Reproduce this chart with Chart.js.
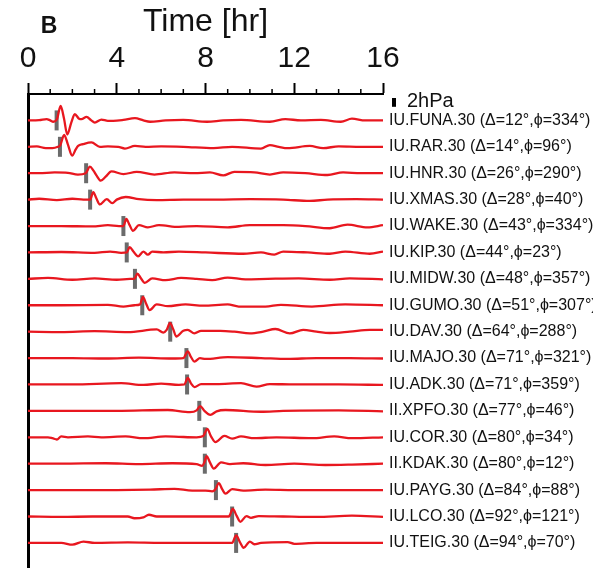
<!DOCTYPE html>
<html>
<head>
<meta charset="utf-8">
<script src="https://cdn.jsdelivr.net/npm/chart.js@4.4.1/dist/chart.umd.min.js"></script>
<style>
  html, body { margin: 0; padding: 0; background: #fff; }
  #wrap { width: 593px; height: 568px; }
</style>
</head>
<body>
<div id="wrap"><canvas id="traces" width="593" height="568"></canvas></div>
<script>
// stations, top to bottom (sorted by distance)
const stations = ['IU.FUNA.30', 'IU.RAR.30', 'IU.HNR.30', 'IU.XMAS.30', 'IU.WAKE.30', 'IU.KIP.30',
  'IU.MIDW.30', 'IU.GUMO.30', 'IU.DAV.30', 'IU.MAJO.30', 'IU.ADK.30', 'II.XPFO.30', 'IU.COR.30',
  'II.KDAK.30', 'IU.PAYG.30', 'IU.LCO.30', 'IU.TEIG.30'];
const distances = [12, 14, 26, 28, 43, 44, 48, 51, 64, 71, 71, 77, 80, 80, 84, 92, 94];
const azimuths = [334, 96, 290, 40, 334, 23, 357, 307, 288, 321, 359, 46, 34, 12, 88, 121, 70];
// picked arrival time of the pressure pulse (hr)
const arrivals = [1.29, 1.44, 2.62, 2.8, 4.3, 4.45, 4.82, 5.15, 6.41, 7.14, 7.17, 7.72, 7.97, 7.97, 8.47, 9.2, 9.38];
const timeTicks = [0, 4, 8, 12, 16];

// pressure records, [time hr, hPa]
const funa = [[0, 0], [0.5, 0.05], [0.84, 0.3], [1.0, 0.0], [1.14, -0.3], [1.3, 0.2], [1.47, 3.3], [1.62, 0.5],
  [1.77, -3.2], [1.95, -0.5], [2.11, 1.4], [2.3, 0.4], [2.41, 0.3], [2.64, 0.8], [2.85, 0.0], [3.01, -0.5],
  [3.31, 0.2], [3.6, -0.1], [3.84, -0.1], [4.3, 0.1], [4.82, 0.5], [5.2, 0.0], [5.5, -0.3], [6.2, 0.0],
  [7.0, 0.1], [8.07, -0.3], [8.8, 0.0], [9.6, 0.1], [10.9, -0.3], [11.6, 0.3], [12.3, 0.0], [13.2, 0.1],
  [14.1, -0.3], [14.6, 0.4], [15.2, 0.0], [16, 0.0]];
const rar = [[0, 0], [0.4, 0.1], [0.8, -0.3], [1.1, -0.3], [1.35, 0.0], [1.45, 0.3], [1.63, 2.7], [1.8, 0.5],
  [1.99, -2.0], [2.15, -0.6], [2.26, 0.2], [2.48, 0.6], [2.86, 1.0], [3.24, 0.0], [3.6, 0.1], [4.07, 0.0],
  [4.37, -0.4], [4.82, 0.2], [5.3, 0.0], [6.0, 0.1], [7.0, 0.0], [8.37, -0.3], [9.2, 0.0], [10.5, -0.4],
  [10.9, 0.4], [11.3, 0.0], [11.7, -0.3], [12.7, 0.2], [13.3, -0.3], [14.0, 0.1], [15.0, 0.0], [16, 0.0]];
const hnr = [[0, 0], [0.5, 0.0], [1.2, 0.2], [1.8, 0.1], [2.25, -0.3], [2.6, 0.0], [2.79, 1.5], [2.95, 0.6],
  [3.1, -0.6], [3.28, -1.7], [3.5, -0.8], [3.76, 0.4], [4.3, -0.2], [4.9, 0.3], [5.7, -0.3], [6.6, 0.2],
  [7.5, 0.0], [8.2, 0.2], [8.8, -0.5], [9.3, 0.3], [10.2, 0.2], [10.9, -0.3], [11.5, 0.2], [12.5, 0.0],
  [13.5, -0.4], [14.2, 0.2], [15.0, 0.0], [16, 0.0]];
const xmas = [[0, 0], [0.5, 0.2], [1.3, -0.1], [2.0, 0.2], [2.5, 0.0], [2.8, 0.0], [2.94, 1.7], [3.08, 0.3],
  [3.24, -1.1], [3.55, 0.1], [3.8, -0.8], [4.0, 0.0], [4.4, 0.6], [5.0, 0.1], [5.8, -0.1], [7.0, 0.0],
  [8.5, 0.0], [10.0, 0.1], [11.5, 0.0], [12.7, -0.3], [13.5, 0.0], [14.8, 0.1], [16, 0.0]];
const wake = [[0, 0], [1.5, 0.0], [2.9, -0.1], [3.6, 0.2], [4.1, 0.0], [4.3, 0.0], [4.43, 1.6], [4.58, 0.2],
  [4.73, -1.1], [5.0, 0.2], [5.4, -0.3], [5.9, 0.2], [6.8, -0.2], [7.6, 0.0], [9.0, -0.3], [10.0, 0.2],
  [11.5, 0.2], [12.5, 0.0], [13.6, -0.5], [14.4, 0.3], [15.3, -0.3], [16, 0.2]];
const kip = [[0, 0], [1.5, 0.1], [3.0, -0.1], [3.7, 0.2], [4.2, -0.1], [4.45, 0.0], [4.58, 1.2], [4.75, 0.2],
  [4.96, -0.9], [5.2, 0.2], [5.4, -0.5], [5.6, 0.2], [6.1, 0.0], [6.8, 0.2], [8.0, 0.0], [9.7, -0.3],
  [10.5, 0.0], [11.1, -0.5], [11.5, 0.2], [12.6, 0.0], [13.6, -0.3], [14.3, 0.2], [15.4, -0.3], [16, 0.2]];
const midw = [[0, 0], [0.9, 0.2], [2.0, -0.2], [3.0, 0.1], [4.0, -0.2], [4.6, 0.0], [4.8, 0.0], [4.93, 1.2],
  [5.08, 0.2], [5.26, -0.9], [5.6, 0.1], [6.2, -0.3], [6.9, 0.2], [7.6, 0.0], [8.3, -0.3], [9.0, 0.3],
  [9.8, -0.1], [10.8, 0.0], [12.2, 0.1], [13.6, -0.2], [14.5, 0.1], [16, -0.1]];
const gumo = [[0, 0], [1.5, 0.0], [3.6, 0.1], [4.3, -0.3], [4.8, 0.0], [5.05, 0.2], [5.18, 1.9], [5.32, 0.4],
  [5.48, -1.1], [5.8, 0.2], [6.3, -0.2], [7.1, 0.2], [7.9, -0.1], [9.0, 0.2], [9.5, -0.3], [10.7, -0.3],
  [11.4, 0.1], [12.8, -0.3], [14.3, 0.2], [16, 0.0]];
const dav = [[0, 0], [1.5, -0.1], [3.0, 0.1], [4.5, -0.1], [5.8, 0.5], [6.1, -0.2], [6.25, 0.4], [6.4, 2.0],
  [6.55, 0.5], [6.68, -1.1], [7.0, 0.2], [7.2, 0.4], [7.5, -0.4], [7.8, 0.2], [8.67, 0.2], [9.3, 0.0],
  [10.0, -0.4], [10.6, 0.0], [11.15, 0.6], [11.8, -0.4], [12.4, 0.4], [13.0, 0.0], [13.6, -0.3], [14.5, 0.0],
  [15.4, 0.4], [16, 0.4]];
const majo = [[0, 0], [2.0, 0.0], [3.5, -0.1], [5.0, 0.1], [6.5, -0.1], [7.0, 0.0], [7.2, 1.5], [7.35, 0.2],
  [7.5, -0.8], [7.75, 0.0], [8.0, -0.2], [9.0, 0.2], [10.5, 0.0], [11.7, -0.2], [13.0, 0.0], [14.5, 0.0],
  [16, -0.1]];
const adk = [[0, 0], [2.0, 0.0], [4.2, 0.3], [5.2, -0.1], [6.0, 0.2], [6.8, -0.1], [7.05, 0.0], [7.2, 1.5],
  [7.35, 0.2], [7.5, -0.6], [7.8, 0.1], [8.5, 0.1], [9.6, 0.3], [10.3, -0.5], [10.9, 0.1], [12.0, 0.0],
  [14.0, 0.0], [16, -0.1]];
const xpfo = [[0, 0], [2.0, 0.0], [4.0, 0.0], [6.3, 0.2], [7.3, -0.3], [7.6, 0.1], [7.76, 1.1], [7.95, 0.0],
  [8.22, -0.9], [8.5, -0.1], [8.9, 0.2], [10.5, -0.2], [11.5, 0.0], [14.0, 0.1], [16, -0.1]];
const cor = [[0, 0], [0.9, 0.0], [1.1, -0.2], [1.3, -0.5], [1.5, 0.2], [1.8, 0.0], [2.7, 0.2], [3.3, 0.0],
  [4.4, 0.2], [5.2, -0.2], [6.2, 0.2], [6.8, 0.1], [7.6, 0.0], [7.9, 0.3], [8.08, 1.9], [8.25, 0.2],
  [8.45, -1.1], [8.85, 0.3], [9.2, -0.3], [9.6, 0.2], [10.2, -0.2], [11.2, 0.0], [12.8, -0.2], [13.8, 0.2],
  [14.6, -0.2], [16, 0.0]];
const kdak = [[0, 0], [1.5, 0.0], [3.5, 0.1], [5.0, -0.1], [6.5, 0.1], [7.6, -0.1], [7.85, -0.5], [7.95, 0.3],
  [8.05, 1.7], [8.2, 0.3], [8.37, -1.1], [8.7, 0.3], [9.1, -0.1], [9.7, 0.1], [10.7, -0.3], [12.0, 0.0],
  [13.4, -0.3], [14.6, -0.2], [16, 0.0]];
const payg = [[0, 0], [2.0, 0.0], [4.0, 0.0], [5.5, 0.1], [6.6, 0.3], [7.4, -0.1], [8.0, -0.1], [8.3, -0.3],
  [8.45, 0.2], [8.6, 1.6], [8.75, 0.2], [8.9, -0.8], [9.2, 0.2], [9.7, -0.1], [10.7, 0.1], [12.0, 0.0],
  [14.0, 0.0], [16, 0.0]];
const lco = [[0, 0], [1.5, -0.1], [2.9, 0.0], [4.5, 0.0], [4.8, -0.4], [5.2, -0.2], [5.45, 0.4], [5.8, 0.0],
  [7.0, 0.0], [8.5, 0.0], [9.05, 0.0], [9.23, 1.7], [9.4, 0.2], [9.57, -1.2], [9.85, 0.1], [10.05, -0.3],
  [10.4, 0.1], [11.5, 0.0], [13.0, -0.1], [14.6, 0.2], [16, -0.1]];
const teig = [[0, 0], [1.5, 0.0], [2.0, -0.4], [2.5, 0.3], [3.0, 0.0], [4.5, 0.1], [6.0, 0.0], [8.0, 0.0],
  [9.2, 0.0], [9.38, 1.7], [9.55, 0.2], [9.72, -1.1], [10.0, 0.3], [10.2, -0.3], [10.5, 0.0], [11.7, 0.2],
  [12.0, -0.2], [13.0, 0.0], [16, 0.0]];

const traces = [funa, rar, hnr, xmas, wake, kip, midw, gumo, dav, majo, adk, xpfo, cor, kdak, payg, lco, teig];

const FONT = "'Liberation Sans', Arial, Helvetica, sans-serif";
const RED = '#e8171f';
const GRAY = '#6b6b6b';
const SPACING = 6;      // hPa between neighbouring traces
const Y_MIN = -107.7;   // leaves room below the last trace

const baseline = i => -(i + 1) * SPACING;

const stationLabel = value => {
  const i = Math.round(-value / SPACING) - 1;
  if (i < 0 || i >= stations.length) return '';
  return `${stations[i]} (Δ=${distances[i]}°,ϕ=${azimuths[i]}°)`;
};

const datasets = traces.map((trace, i) => ({
  type: 'line',
  data: trace.map(([t, p]) => ({ x: t, y: p + baseline(i) })),
  borderColor: RED,
  borderWidth: 2.3,
  pointRadius: 0,
  cubicInterpolationMode: 'monotone',
  order: 0,
}));

// gray picks at the arrival times
datasets.push({
  type: 'scatter',
  data: arrivals.map((t, i) => ({ x: t, y: baseline(i) })),
  pointStyle: 'line',
  rotation: 90,
  pointRadius: 10,
  borderWidth: 4,
  borderColor: GRAY,
  order: 1,
});

// minor hour ticks, the 2 hPa bar and the panel letter
const extras = {
  id: 'extras',
  afterDraw(chart) {
    const { ctx, chartArea, scales: { x, y } } = chart;
    ctx.save();
    ctx.strokeStyle = '#000';
    ctx.lineWidth = 1.5;
    for (let h = 1; h < 16; h++) {
      if (h % 4 === 0) continue;
      const px = x.getPixelForValue(h);
      ctx.beginPath();
      ctx.moveTo(px, chartArea.top);
      ctx.lineTo(px, chartArea.top - 5);
      ctx.stroke();
    }

    const barLen = Math.abs(y.getPixelForValue(0) - y.getPixelForValue(2));
    const bx = x.right + 11;
    const by = chartArea.top + 4;
    ctx.fillStyle = '#000';
    ctx.fillRect(bx - 2, by, 4, barLen);
    ctx.fillStyle = '#111';
    ctx.font = '20px ' + FONT;
    ctx.textAlign = 'left';
    ctx.textBaseline = 'middle';
    ctx.fillText('2hPa', bx + 13, by + barLen / 2 - 1);

    ctx.font = 'bold 23px ' + FONT;
    ctx.textAlign = 'center';
    ctx.fillText('B', 49, 27);
    ctx.restore();
  }
};

new Chart(document.getElementById('traces'), {
  type: 'line',
  data: { datasets },
  options: {
    responsive: false,
    animation: false,
    devicePixelRatio: 1,
    layout: { padding: 0, autoPadding: false },
    plugins: { legend: { display: false }, tooltip: { enabled: false } },
    scales: {
      x: {
        type: 'linear',
        position: 'top',
        min: 0,
        max: 16,
        afterBuildTicks: s => { s.ticks = timeTicks.map(v => ({ value: v })); },
        afterFit: s => { s.height = 94; },
        ticks: { font: { family: FONT, size: 30 }, color: '#111', padding: 6, maxRotation: 0, autoSkip: false },
        grid: { drawOnChartArea: false, tickLength: 11, tickWidth: 2, tickColor: '#000' },
        border: { color: '#000', width: 2 },
        title: {
          display: true,
          text: 'Time [hr]',
          font: { family: FONT, size: 32 },
          color: '#111',
          padding: { top: 3, bottom: 0 },
        },
      },
      y: {
        type: 'linear',
        position: 'left',
        min: Y_MIN,
        max: 0,
        afterFit: s => { s.width = 28; s.paddingTop = 0; s.paddingBottom = 0; },
        ticks: { display: false },
        grid: { drawOnChartArea: false, drawTicks: false, color: 'rgba(0,0,0,0)' },
        border: { color: '#000', width: 3 },
      },
      names: {
        type: 'linear',
        position: 'right',
        min: Y_MIN,
        max: 0,
        afterBuildTicks: s => { s.ticks = stations.map((_, i) => ({ value: baseline(i) })); },
        afterFit: s => { s.width = 210; s.paddingTop = 0; s.paddingBottom = 0; },
        ticks: { autoSkip: false, padding: 6, color: '#111', font: { family: FONT, size: 16 }, callback: stationLabel },
        grid: { display: false, drawTicks: false },
        border: { display: false },
      },
    },
  },
  plugins: [extras],
});
</script>
</body>
</html>
